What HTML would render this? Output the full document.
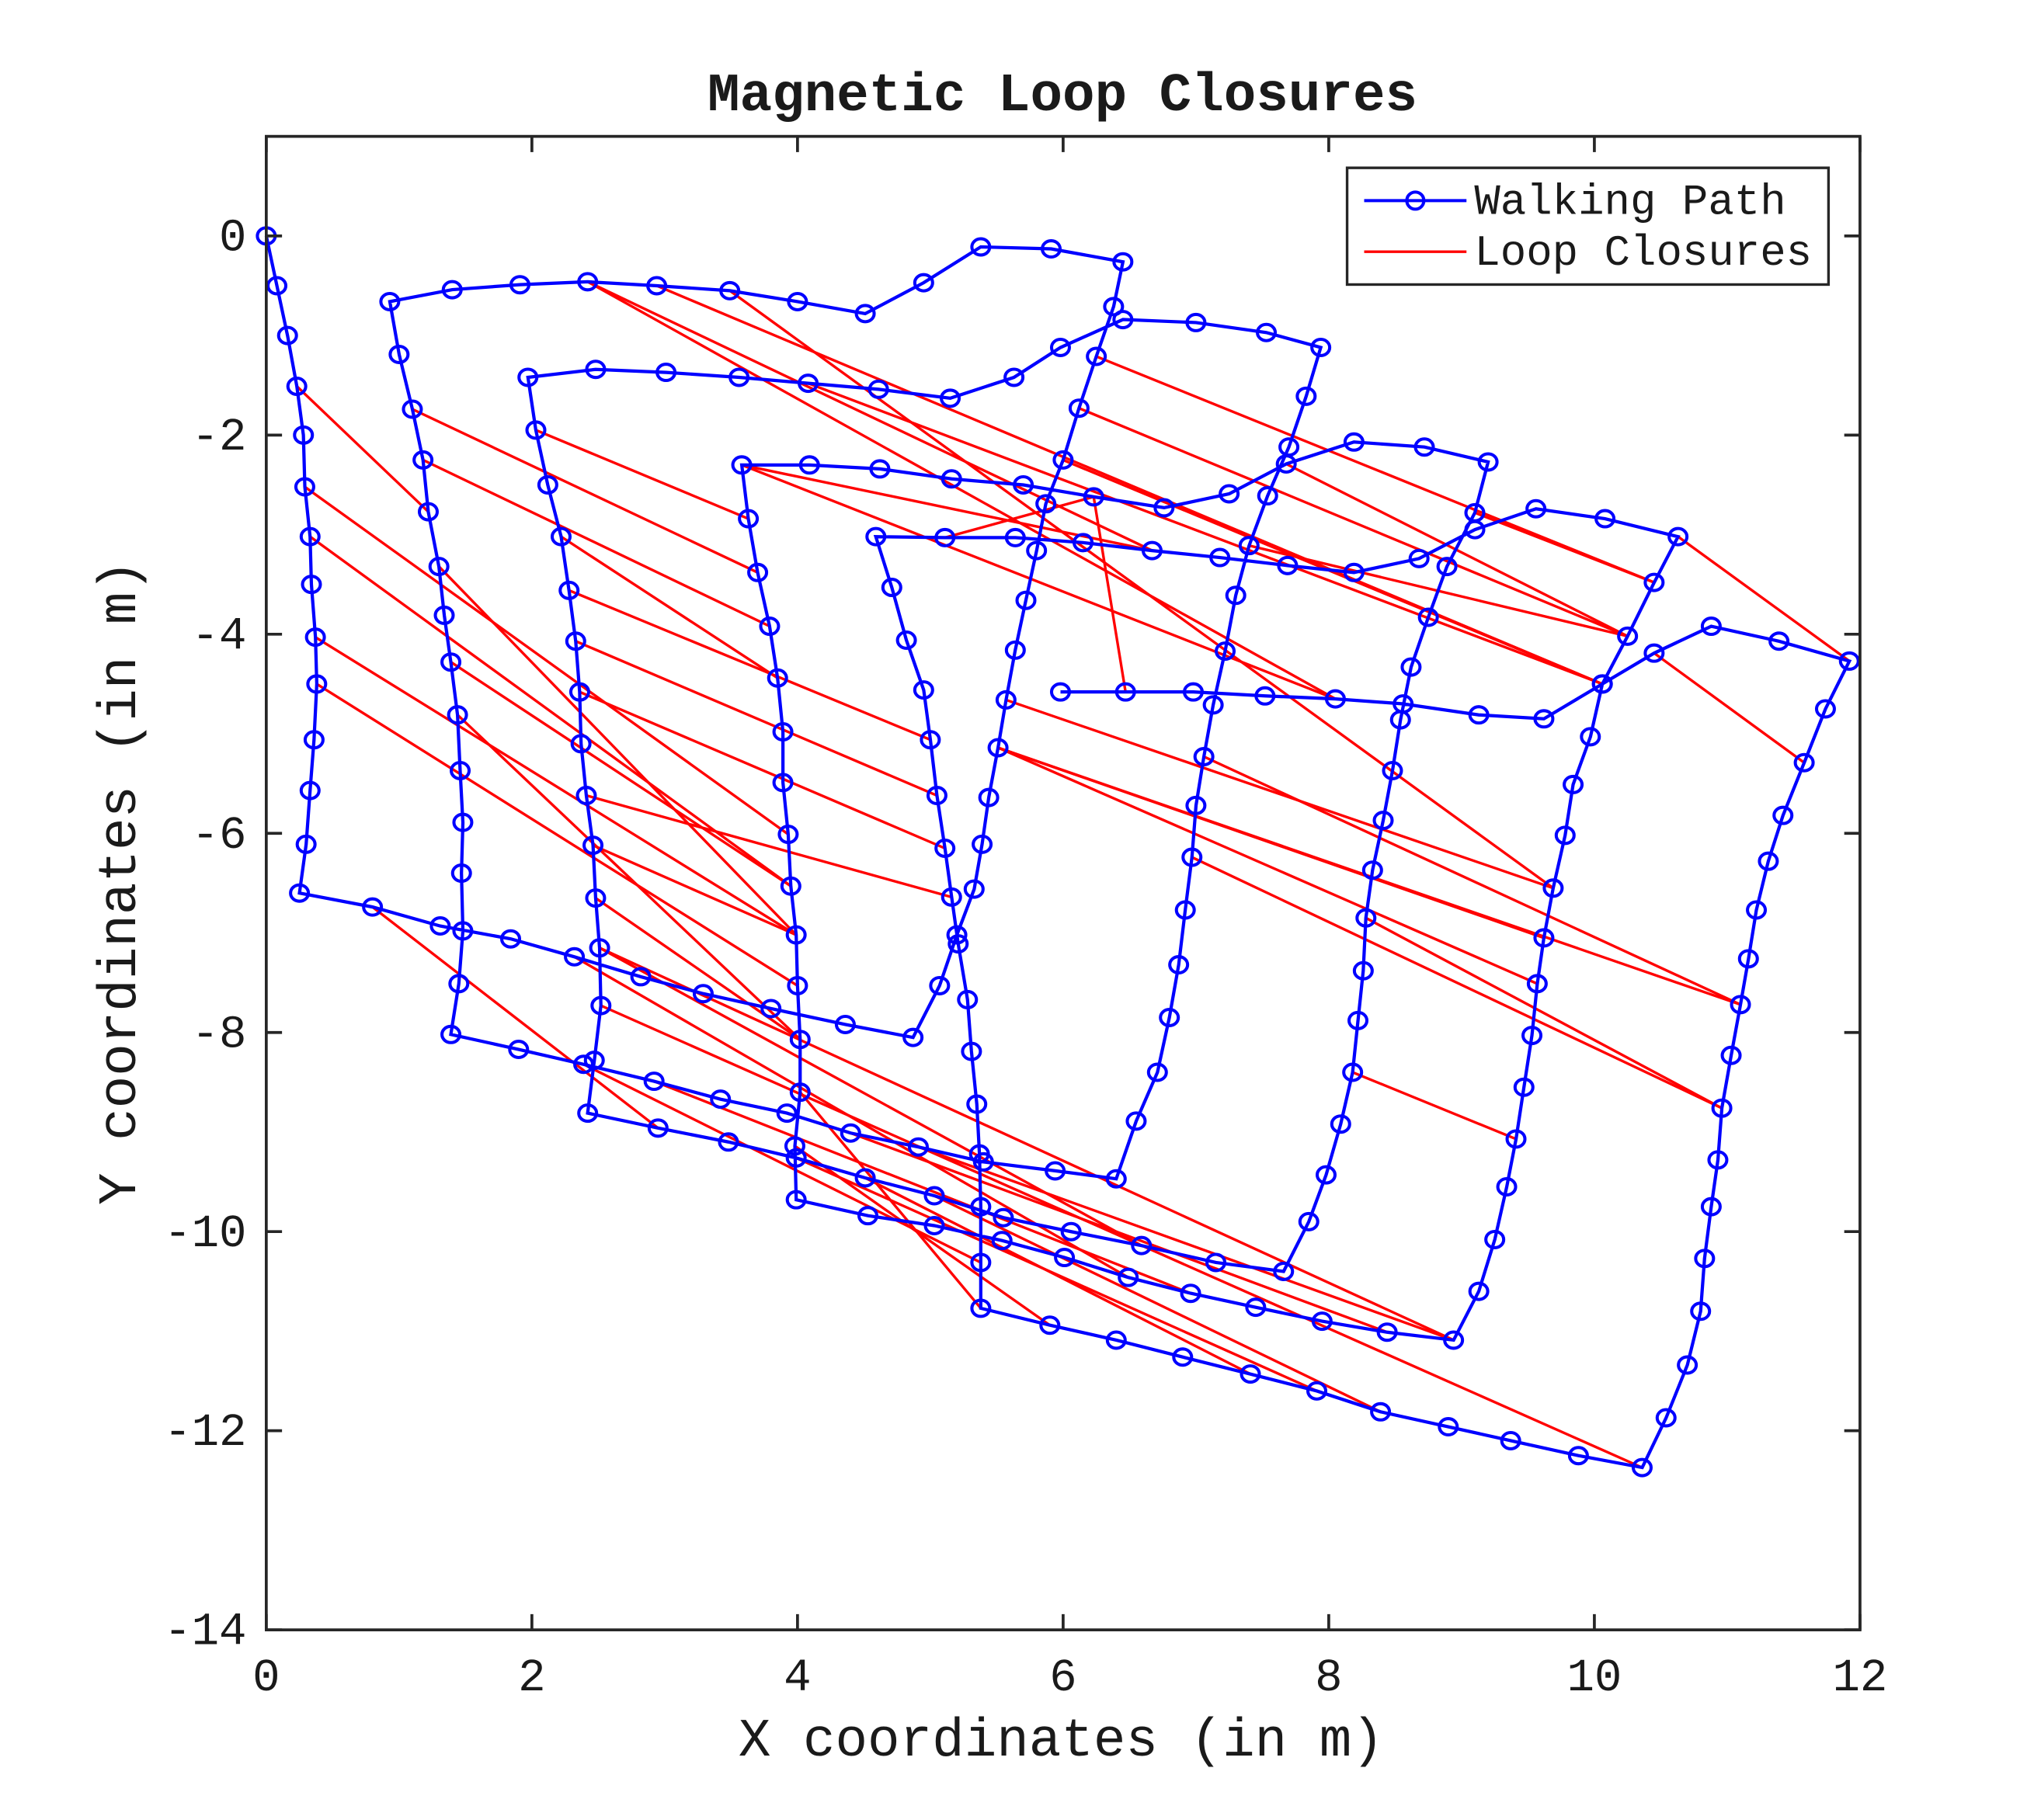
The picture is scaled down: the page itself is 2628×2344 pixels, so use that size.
<!DOCTYPE html>
<html>
<head>
<meta charset="utf-8">
<style>
html,body{margin:0;padding:0;background:#fff;}
svg{display:block;}
text{font-family:"Liberation Mono","DejaVu Sans Mono",monospace;fill:#1a1a1a;}
</style>
</head>
<body>
<svg id="chart" xmlns="http://www.w3.org/2000/svg" width="2628" height="2344" viewBox="0 0 1556 1388" preserveAspectRatio="none">
  <rect x="0" y="0" width="1556" height="1388" fill="#fff"/>
  <text x="810" y="84" text-anchor="middle" font-size="41" font-weight="bold">Magnetic Loop Closures</text>
  <g id="plot"></g>
  <rect x="203" y="104" width="1215" height="1139" fill="none" stroke="#262626" stroke-width="2.2"/>
  <g id="ticks"></g>
  <text x="809" y="1339" text-anchor="middle" font-size="41">X coordinates (in m)</text>
  <text x="0" y="0" transform="translate(103,673) rotate(-90)" text-anchor="middle" font-size="41">Y coordinates (in m)</text>
  <g>
    <rect x="1027" y="128" width="367" height="89" fill="#fff" stroke="#262626" stroke-width="2"/>
    <line x1="1040" y1="153" x2="1118" y2="153" stroke="#0000ff" stroke-width="2.4"/>
    <circle cx="1079" cy="153" r="6.5" fill="none" stroke="#0000ff" stroke-width="2.4"/>
    <text x="1124" y="163" font-size="33">Walking Path</text>
    <line x1="1040" y1="192" x2="1118" y2="192" stroke="#ff0000" stroke-width="2"/>
    <text x="1124" y="202" font-size="33">Loop Closures</text>
  </g>
</svg>
<script>
const pathX = [0,0.08,0.16,0.23,0.28,0.29,0.33,0.34,0.37,0.38,0.36,0.33,0.30,0.25,
0.80,1.31,1.84,2.32,2.82,3.29,3.80,4.36,4.87,
5.07,5.20,5.33,5.39,5.44,5.51,5.57,5.64,5.72,5.80,5.87,6.00,6.12,6.25,6.38,6.45,
5.91,5.38,4.95,4.51,4.00,3.49,2.94,2.42,1.91,1.40,0.93,
1.00,1.10,1.18,1.22,1.30,1.34,1.39,1.44,1.46,1.48,1.47,1.48,1.45,1.39,
1.90,2.39,2.92,3.42,3.92,4.40,4.91,5.40,5.94,6.40,
6.55,6.71,6.80,6.87,6.92,6.97,7.00,7.06,7.13,7.22,7.30,7.40,7.54,7.70,7.83,7.94,
7.53,7.00,6.45,5.98,5.63,5.15,4.61,4.08,3.56,3.01,2.48,1.97,
2.03,2.12,2.22,2.28,2.33,2.36,2.37,2.41,2.46,2.48,2.51,2.52,2.47,2.42,
2.95,3.48,3.99,4.51,5.03,5.55,6.06,6.59,7.15,7.66,
7.85,7.98,8.09,8.18,8.22,8.26,8.28,8.33,8.41,8.48,8.54,8.62,8.75,8.89,9.10,9.20,
8.72,8.19,7.68,7.25,6.76,6.23,5.70,5.16,4.62,4.09,3.58,
3.63,3.70,3.79,3.85,3.89,3.89,3.93,3.95,3.99,4.00,4.02,4.02,3.98,3.99,
4.53,5.03,5.54,6.01,6.49,6.96,7.45,7.95,8.44,8.94,
9.13,9.25,9.34,9.41,9.47,9.53,9.57,9.62,9.69,9.78,9.84,9.97,10.06,10.25,10.45,10.63,
10.08,9.56,9.10,8.68,8.19,7.69,7.18,6.67,6.15,5.64,5.11,4.59,
4.71,4.82,4.95,5.00,5.05,5.11,5.16,5.21,5.28,5.31,5.35,5.37,5.38,5.38,5.38,
5.90,6.40,6.90,7.41,7.91,8.39,8.90,9.37,9.88,10.36,
10.54,10.70,10.80,10.83,10.88,10.93,10.96,11.03,11.10,11.16,11.22,11.31,11.42,11.58,11.74,11.92,
11.39,10.88,10.45,10.06,9.62,9.13,8.56,8.05,7.52,6.98,6.47,5.98];
const pathY = [0,-0.50,-1.00,-1.51,-2.00,-2.52,-3.02,-3.50,-4.03,-4.50,-5.06,-5.57,-6.11,-6.60,
-6.74,-6.93,-7.06,-7.24,-7.44,-7.61,-7.76,-7.92,-8.05,
-7.53,-7.02,-6.56,-6.11,-5.64,-5.14,-4.66,-4.16,-3.66,-3.16,-2.69,-2.25,-1.73,-1.21,-0.71,-0.26,
-0.13,-0.11,-0.47,-0.78,-0.66,-0.55,-0.50,-0.46,-0.49,-0.54,-0.66,
-1.19,-1.74,-2.25,-2.77,-3.32,-3.81,-4.28,-4.81,-5.37,-5.89,-6.40,-6.98,-7.51,-8.02,
-8.17,-8.32,-8.49,-8.67,-8.81,-9.01,-9.15,-9.30,-9.39,-9.47,
-8.89,-8.40,-7.85,-7.32,-6.77,-6.24,-5.72,-5.23,-4.71,-4.17,-3.61,-3.11,-2.61,-2.12,-1.61,-1.12,
-0.97,-0.87,-0.84,-1.12,-1.42,-1.63,-1.54,-1.48,-1.42,-1.37,-1.34,-1.42,
-1.95,-2.50,-3.02,-3.56,-4.07,-4.58,-5.10,-5.62,-6.12,-6.65,-7.15,-7.73,-8.28,-8.81,
-8.96,-9.10,-9.26,-9.46,-9.64,-9.86,-10.00,-10.14,-10.31,-10.40,
-9.90,-9.43,-8.92,-8.40,-7.88,-7.38,-6.85,-6.37,-5.87,-5.37,-4.86,-4.33,-3.83,-3.32,-2.78,-2.27,
-2.12,-2.07,-2.29,-2.59,-2.73,-2.62,-2.50,-2.44,-2.34,-2.30,-2.30,
-2.84,-3.38,-3.92,-4.44,-4.98,-5.49,-6.01,-6.53,-7.02,-7.53,-8.07,-8.60,-9.14,-9.68,
-9.84,-9.94,-10.09,-10.26,-10.46,-10.62,-10.76,-10.90,-11.01,-11.09,
-10.60,-10.08,-9.55,-9.07,-8.55,-8.03,-7.51,-7.05,-6.55,-6.02,-5.51,-5.03,-4.50,-4.02,-3.48,-3.02,
-2.84,-2.74,-2.95,-3.24,-3.38,-3.31,-3.23,-3.16,-3.08,-3.03,-3.03,-3.02,
-3.53,-4.06,-4.56,-5.06,-5.62,-6.15,-6.64,-7.11,-7.67,-8.19,-8.72,-9.22,-9.75,-10.31,-10.77,
-10.94,-11.09,-11.26,-11.43,-11.60,-11.81,-11.96,-12.10,-12.25,-12.37,
-11.87,-11.34,-10.80,-10.27,-9.75,-9.28,-8.76,-8.23,-7.72,-7.26,-6.77,-6.28,-5.82,-5.29,-4.75,-4.27,
-4.07,-3.92,-4.19,-4.50,-4.85,-4.81,-4.70,-4.65,-4.62,-4.58,-4.58,-4.58];
// loop closures: pairs of pose indices along the walking path
const closureFrom = [3,5,6,8,9,51,52,54,56,57,102,104,105,106,107,109,110,111,
14,17,112,112,113,65,66,118,69,70,119,120,164,165,
46,46,45,44,97,152,152,203,147,36,35,34,140,192,248,85,144,
28,28,28,29,81,79,132,129];
const closureTo = [53,159,160,161,162,154,155,161,160,163,153,156,208,209,210,211,161,163,
116,171,123,176,229,218,172,224,175,176,223,225,219,220,
253,200,249,185,249,200,253,147,256,191,190,189,191,245,243,190,190,
184,183,238,185,238,236,236,180];
const xTicks = [0,2,4,6,8,10,12];
const yTicks = [0,-2,-4,-6,-8,-10,-12,-14];

const NS = 'http://www.w3.org/2000/svg';
const X0 = 203, X1 = 1418, Y0 = 104, Y1 = 1243;
const xMin = 0, xMax = 12, yMin = -14, yMax = 1;
function sx(v){ return X0 + (v - xMin) / (xMax - xMin) * (X1 - X0); }
function sy(v){ return Y1 - (v - yMin) / (yMax - yMin) * (Y1 - Y0); }

const plot = document.getElementById('plot');
const ticks = document.getElementById('ticks');

for (let i = 0; i < closureFrom.length; i++) {
  const a = closureFrom[i], b = closureTo[i];
  const l = document.createElementNS(NS, 'line');
  l.setAttribute('x1', sx(pathX[a])); l.setAttribute('y1', sy(pathY[a]));
  l.setAttribute('x2', sx(pathX[b])); l.setAttribute('y2', sy(pathY[b]));
  l.setAttribute('stroke', '#ff0000'); l.setAttribute('stroke-width', '2');
  
  
  plot.appendChild(l);
}

let d = '';
for (let i = 0; i < pathX.length; i++) {
  d += (i ? 'L' : 'M') + sx(pathX[i]).toFixed(1) + ' ' + sy(pathY[i]).toFixed(1);
}
const p = document.createElementNS(NS, 'path');
p.setAttribute('d', d); p.setAttribute('fill', 'none');
p.setAttribute('stroke', '#0000ff'); p.setAttribute('stroke-width', '2.5');


plot.appendChild(p);

for (let i = 0; i < pathX.length; i++) {
  const c = document.createElementNS(NS, 'ellipse');
  c.setAttribute('cx', sx(pathX[i])); c.setAttribute('cy', sy(pathY[i]));
  c.setAttribute('rx', 6.8); c.setAttribute('ry', 6.2);
  c.setAttribute('fill', 'none'); c.setAttribute('stroke', '#0000ff'); c.setAttribute('stroke-width', '2.4');
  
  
  plot.appendChild(c);
}

function tickLine(x1, y1, x2, y2) {
  const t = document.createElementNS(NS, 'line');
  t.setAttribute('x1', x1); t.setAttribute('y1', y1); t.setAttribute('x2', x2); t.setAttribute('y2', y2);
  t.setAttribute('stroke', '#262626'); t.setAttribute('stroke-width', '2.2');
  
  
  ticks.appendChild(t);
}
xTicks.forEach(v => {
  const x = sx(v);
  tickLine(x, Y1, x, Y1 - 12);
  tickLine(x, Y0, x, Y0 + 12);
  const t = document.createElementNS(NS, 'text');
  t.setAttribute('x', x); t.setAttribute('y', 1289);
  t.setAttribute('text-anchor', 'middle'); t.setAttribute('font-size', '35');
  t.textContent = String(v);
  
  
  ticks.appendChild(t);
});
yTicks.forEach(v => {
  const y = sy(v);
  tickLine(X0, y, X0 + 12, y);
  tickLine(X1, y, X1 - 12, y);
  const t = document.createElementNS(NS, 'text');
  t.setAttribute('x', 188); t.setAttribute('y', y + 11);
  t.setAttribute('text-anchor', 'end'); t.setAttribute('font-size', '35');
  t.textContent = String(v);
  
  
  ticks.appendChild(t);
});
</script>
</body>
</html>
